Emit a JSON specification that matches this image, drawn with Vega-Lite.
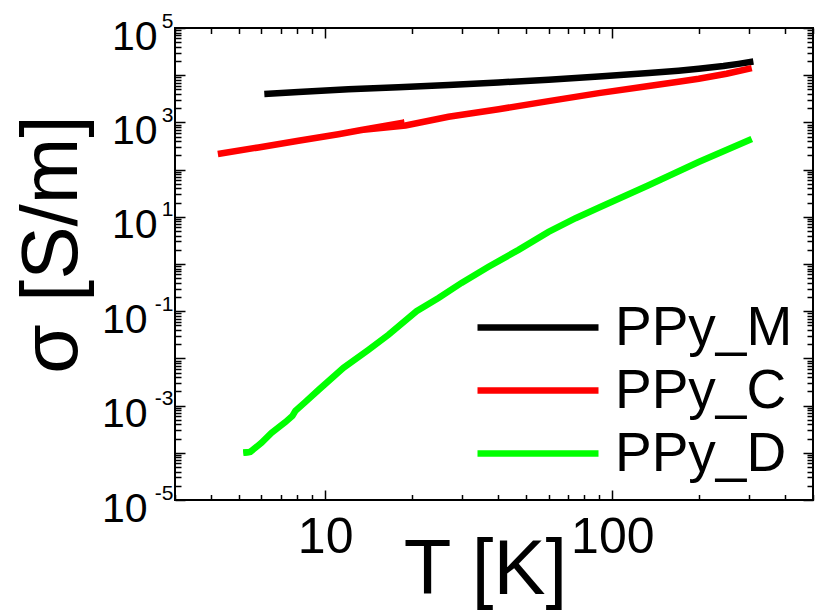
{
  "$schema": "https://vega.github.io/schema/vega-lite/v6.json",
  "width": 638,
  "height": 472,
  "autosize": {"type": "none"},
  "padding": {"left": 175, "top": 28, "right": 6, "bottom": 111},
  "background": "white",
  "config": {
    "view": {"stroke": "black", "strokeWidth": 2},
    "axis": {
      "domain": false,
      "grid": false,
      "tickColor": "black",
      "tickWidth": 1.5,
      "labelColor": "black",
      "titleColor": "black",
      "labelFont": "Liberation Sans",
      "titleFont": "Liberation Sans",
      "titleFontWeight": "normal",
      "labelOverlap": false,
      "labelBound": false,
      "labelFlush": false
    },
    "legend": {"labelFont": "Liberation Sans"},
    "line": {"strokeWidth": 6.5, "clip": true}
  },
  "data": {
    "values": [
      {"series": "PPy_M", "i": 1, "T": 6.14, "s": 3981},
      {"series": "PPy_M", "i": 2, "T": 8.07, "s": 4416},
      {"series": "PPy_M", "i": 3, "T": 12.05, "s": 5012},
      {"series": "PPy_M", "i": 4, "T": 18.0, "s": 5559},
      {"series": "PPy_M", "i": 5, "T": 26.9, "s": 6166},
      {"series": "PPy_M", "i": 6, "T": 40.1, "s": 6998},
      {"series": "PPy_M", "i": 7, "T": 60.0, "s": 8035},
      {"series": "PPy_M", "i": 8, "T": 89.7, "s": 9333},
      {"series": "PPy_M", "i": 9, "T": 134, "s": 11092},
      {"series": "PPy_M", "i": 10, "T": 170, "s": 12445},
      {"series": "PPy_M", "i": 11, "T": 200, "s": 13646},
      {"series": "PPy_M", "i": 12, "T": 244, "s": 15668},
      {"series": "PPy_M", "i": 13, "T": 275, "s": 17378},
      {"series": "PPy_M", "i": 14, "T": 310, "s": 19498},

      {"series": "PPy_C", "i": 1, "T": 4.23, "s": 213.8},
      {"series": "PPy_C", "i": 2, "T": 5.86, "s": 295},
      {"series": "PPy_C", "i": 3, "T": 8.07, "s": 407},
      {"series": "PPy_C", "i": 4, "T": 11.12, "s": 562},
      {"series": "PPy_C", "i": 5, "T": 13.38, "s": 692},
      {"series": "PPy_C", "i": 6, "T": 18.9, "s": 1000},
      {"series": "PPy_C", "i": 7, "T": 13.6, "s": 700},
      {"series": "PPy_C", "i": 8, "T": 19.05, "s": 860},
      {"series": "PPy_C", "i": 9, "T": 26.9, "s": 1318},
      {"series": "PPy_C", "i": 10, "T": 40.2, "s": 1905},
      {"series": "PPy_C", "i": 11, "T": 60.0, "s": 2818},
      {"series": "PPy_C", "i": 12, "T": 89.7, "s": 4169},
      {"series": "PPy_C", "i": 13, "T": 134, "s": 5888},
      {"series": "PPy_C", "i": 14, "T": 170, "s": 7244},
      {"series": "PPy_C", "i": 15, "T": 200, "s": 8414},
      {"series": "PPy_C", "i": 16, "T": 250, "s": 10715},
      {"series": "PPy_C", "i": 17, "T": 306, "s": 14125},

      {"series": "PPy_D", "i": 1, "T": 5.19, "s": 0.0001},
      {"series": "PPy_D", "i": 2, "T": 5.49, "s": 0.0001047},
      {"series": "PPy_D", "i": 3, "T": 6.0, "s": 0.0001622},
      {"series": "PPy_D", "i": 4, "T": 6.5, "s": 0.000263},
      {"series": "PPy_D", "i": 5, "T": 7.27, "s": 0.000447},
      {"series": "PPy_D", "i": 6, "T": 7.69, "s": 0.000603},
      {"series": "PPy_D", "i": 7, "T": 7.88, "s": 0.000776},
      {"series": "PPy_D", "i": 8, "T": 8.54, "s": 0.001202},
      {"series": "PPy_D", "i": 9, "T": 9.48, "s": 0.00214},
      {"series": "PPy_D", "i": 10, "T": 11.58, "s": 0.00631},
      {"series": "PPy_D", "i": 11, "T": 14.15, "s": 0.01514},
      {"series": "PPy_D", "i": 12, "T": 16.62, "s": 0.0316},
      {"series": "PPy_D", "i": 13, "T": 20.81, "s": 0.1},
      {"series": "PPy_D", "i": 14, "T": 24.82, "s": 0.1905},
      {"series": "PPy_D", "i": 15, "T": 29.85, "s": 0.398},
      {"series": "PPy_D", "i": 16, "T": 37.07, "s": 0.871},
      {"series": "PPy_D", "i": 17, "T": 47.16, "s": 1.995},
      {"series": "PPy_D", "i": 18, "T": 59.98, "s": 4.786},
      {"series": "PPy_D", "i": 19, "T": 74.5, "s": 9.33},
      {"series": "PPy_D", "i": 20, "T": 89.6, "s": 15.49},
      {"series": "PPy_D", "i": 21, "T": 133.8, "s": 46.77},
      {"series": "PPy_D", "i": 22, "T": 199.8, "s": 144.5},
      {"series": "PPy_D", "i": 23, "T": 306, "s": 446.7}
    ]
  },
  "layer": [
    {
      "transform": [{"filter": "datum.series === 'PPy_M'"}],
      "mark": {"type": "line"},
      "encoding": {
        "x": {
          "field": "T",
          "type": "quantitative",
          "scale": {"type": "log", "domain": [3, 500], "nice": false},
          "axis": {
            "orient": "bottom",
            "values": [3, 4, 5, 6, 7, 8, 9, 10, 20, 30, 40, 50, 60, 70, 80, 90, 100, 200, 300, 400, 500],
            "tickSize": -10,
            "tickDash": {"condition": {"test": "datum.value == 10 || datum.value == 100", "value": []}, "value": [5.5, 40]},
            "labelExpr": "datum.value == 10 ? '10' : datum.value == 100 ? '100' : ''",
            "labelFontSize": 50,
            "labelBaseline": "alphabetic",
            "labelPadding": 62,
            "title": "T [K]",
            "titleFontSize": 78,
            "titleX": 310,
            "titleY": 93,
            "titleBaseline": "alphabetic",
            "titleAlign": "center"
          }
        },
        "y": {
          "field": "s",
          "type": "quantitative",
          "scale": {"type": "log", "domain": [1e-5, 1e5], "nice": false},
          "axis": {
            "orient": "left",
            "values": [1e-5, 2e-5, 3e-5, 4e-5, 5e-5, 6e-5, 7e-5, 8e-5, 9e-5,
                       1e-4, 2e-4, 3e-4, 4e-4, 5e-4, 6e-4, 7e-4, 8e-4, 9e-4,
                       0.001, 0.002, 0.003, 0.004, 0.005, 0.006, 0.007, 0.008, 0.009,
                       0.01, 0.02, 0.03, 0.04, 0.05, 0.06, 0.07, 0.08, 0.09,
                       0.1, 0.2, 0.3, 0.4, 0.5, 0.6, 0.7, 0.8, 0.9,
                       1, 2, 3, 4, 5, 6, 7, 8, 9,
                       10, 20, 30, 40, 50, 60, 70, 80, 90,
                       100, 200, 300, 400, 500, 600, 700, 800, 900,
                       1000, 2000, 3000, 4000, 5000, 6000, 7000, 8000, 9000,
                       10000, 20000, 30000, 40000, 50000, 60000, 70000, 80000, 90000,
                       100000],
            "tickSize": -10,
            "tickDash": {"condition": {"test": "abs(log(datum.value)/LN10 - round(log(datum.value)/LN10)) < 0.001", "value": []}, "value": [6, 40]},
            "labelExpr": "datum.value == 10 || datum.value == 1000 || datum.value == 100000 ? '10' : ''",
            "labelFontSize": 41,
            "labelBaseline": "alphabetic",
            "labelOffset": 21,
            "labelPadding": 28,
            "title": "σ [S/m]",
            "titleFontSize": 80,
            "titleX": -99,
            "titleY": 216,
            "titleAngle": -90,
            "titleBaseline": "alphabetic",
            "titleAlign": "center"
          }
        },
        "color": {
          "field": "series",
          "type": "nominal",
          "scale": {"domain": ["PPy_M", "PPy_C", "PPy_D"], "range": ["#000000", "#ff0000", "#00ff00"]},
          "legend": {
            "orient": "none",
            "legendX": 299,
            "legendY": 268,
            "title": null,
            "padding": 0,
            "labelFontSize": 55,
            "labelColor": "black",
            "labelOffset": 13,
            "labelLimit": 500,
            "rowPadding": 0,
            "clipHeight": 63,
            "symbolType": "stroke",
            "symbolSize": 14641,
            "symbolStrokeWidth": 6.5
          }
        },
        "order": {"field": "i", "type": "quantitative"}
      }
    },
    {
      "transform": [{"filter": "datum.series === 'PPy_C'"}],
      "mark": {"type": "line"},
      "encoding": {
        "x": {
          "field": "T",
          "type": "quantitative",
          "scale": {"type": "log", "domain": [3, 500], "nice": false},
          "axis": null
        },
        "y": {
          "field": "s",
          "type": "quantitative",
          "scale": {"type": "log", "domain": [1e-5, 1e5], "nice": false},
          "axis": {
            "orient": "left",
            "values": [1e-5, 1e-3, 0.1, 10, 1000, 100000],
            "ticks": false,
            "tickSize": 0,
            "labelExpr": "(datum.value < 1 ? '-' : '') + abs(round(log(datum.value)/LN10))",
            "labelFontSize": 21,
            "labelBaseline": "alphabetic",
            "labelOffset": -1,
            "labelPadding": 2,
            "title": null
          }
        },
        "color": {"field": "series", "type": "nominal"},
        "order": {"field": "i", "type": "quantitative"}
      }
    },
    {
      "transform": [{"filter": "datum.series === 'PPy_D'"}],
      "mark": {"type": "line"},
      "encoding": {
        "x": {
          "field": "T",
          "type": "quantitative",
          "scale": {"type": "log", "domain": [3, 500], "nice": false},
          "axis": {
            "orient": "top",
            "values": [3, 4, 5, 6, 7, 8, 9, 10, 20, 30, 40, 50, 60, 70, 80, 90, 100, 200, 300, 400, 500],
            "tickSize": -10,
            "tickDash": {"condition": {"test": "datum.value == 10 || datum.value == 100", "value": []}, "value": [5.5, 40]},
            "labels": false,
            "title": null
          }
        },
        "y": {
          "field": "s",
          "type": "quantitative",
          "scale": {"type": "log", "domain": [1e-5, 1e5], "nice": false},
          "axis": {
            "orient": "right",
            "values": [1e-5, 2e-5, 3e-5, 4e-5, 5e-5, 6e-5, 7e-5, 8e-5, 9e-5,
                       1e-4, 2e-4, 3e-4, 4e-4, 5e-4, 6e-4, 7e-4, 8e-4, 9e-4,
                       0.001, 0.002, 0.003, 0.004, 0.005, 0.006, 0.007, 0.008, 0.009,
                       0.01, 0.02, 0.03, 0.04, 0.05, 0.06, 0.07, 0.08, 0.09,
                       0.1, 0.2, 0.3, 0.4, 0.5, 0.6, 0.7, 0.8, 0.9,
                       1, 2, 3, 4, 5, 6, 7, 8, 9,
                       10, 20, 30, 40, 50, 60, 70, 80, 90,
                       100, 200, 300, 400, 500, 600, 700, 800, 900,
                       1000, 2000, 3000, 4000, 5000, 6000, 7000, 8000, 9000,
                       10000, 20000, 30000, 40000, 50000, 60000, 70000, 80000, 90000,
                       100000],
            "tickSize": -10,
            "tickDash": {"condition": {"test": "abs(log(datum.value)/LN10 - round(log(datum.value)/LN10)) < 0.001", "value": []}, "value": [6, 40]},
            "labels": false,
            "title": null
          }
        },
        "color": {"field": "series", "type": "nominal"},
        "order": {"field": "i", "type": "quantitative"}
      }
    },
    {
      "transform": [{"filter": "datum.series === 'PPy_D' && datum.i <= 2"}],
      "mark": {"type": "line"},
      "encoding": {
        "x": {
          "field": "T",
          "type": "quantitative",
          "scale": {"type": "log", "domain": [3, 500], "nice": false},
          "axis": null
        },
        "y": {
          "field": "s",
          "type": "quantitative",
          "scale": {"type": "log", "domain": [1e-5, 1e5], "nice": false},
          "axis": {
            "orient": "left",
            "values": [1e-5, 1e-3, 0.1],
            "ticks": false,
            "tickSize": 0,
            "labelExpr": "'10'",
            "labelFontSize": 41,
            "labelBaseline": "alphabetic",
            "labelOffset": 21,
            "labelPadding": 28,
            "title": null
          }
        },
        "color": {"field": "series", "type": "nominal"},
        "order": {"field": "i", "type": "quantitative"}
      }
    }
  ],
  "resolve": {"axis": {"x": "independent", "y": "independent"}}
}
